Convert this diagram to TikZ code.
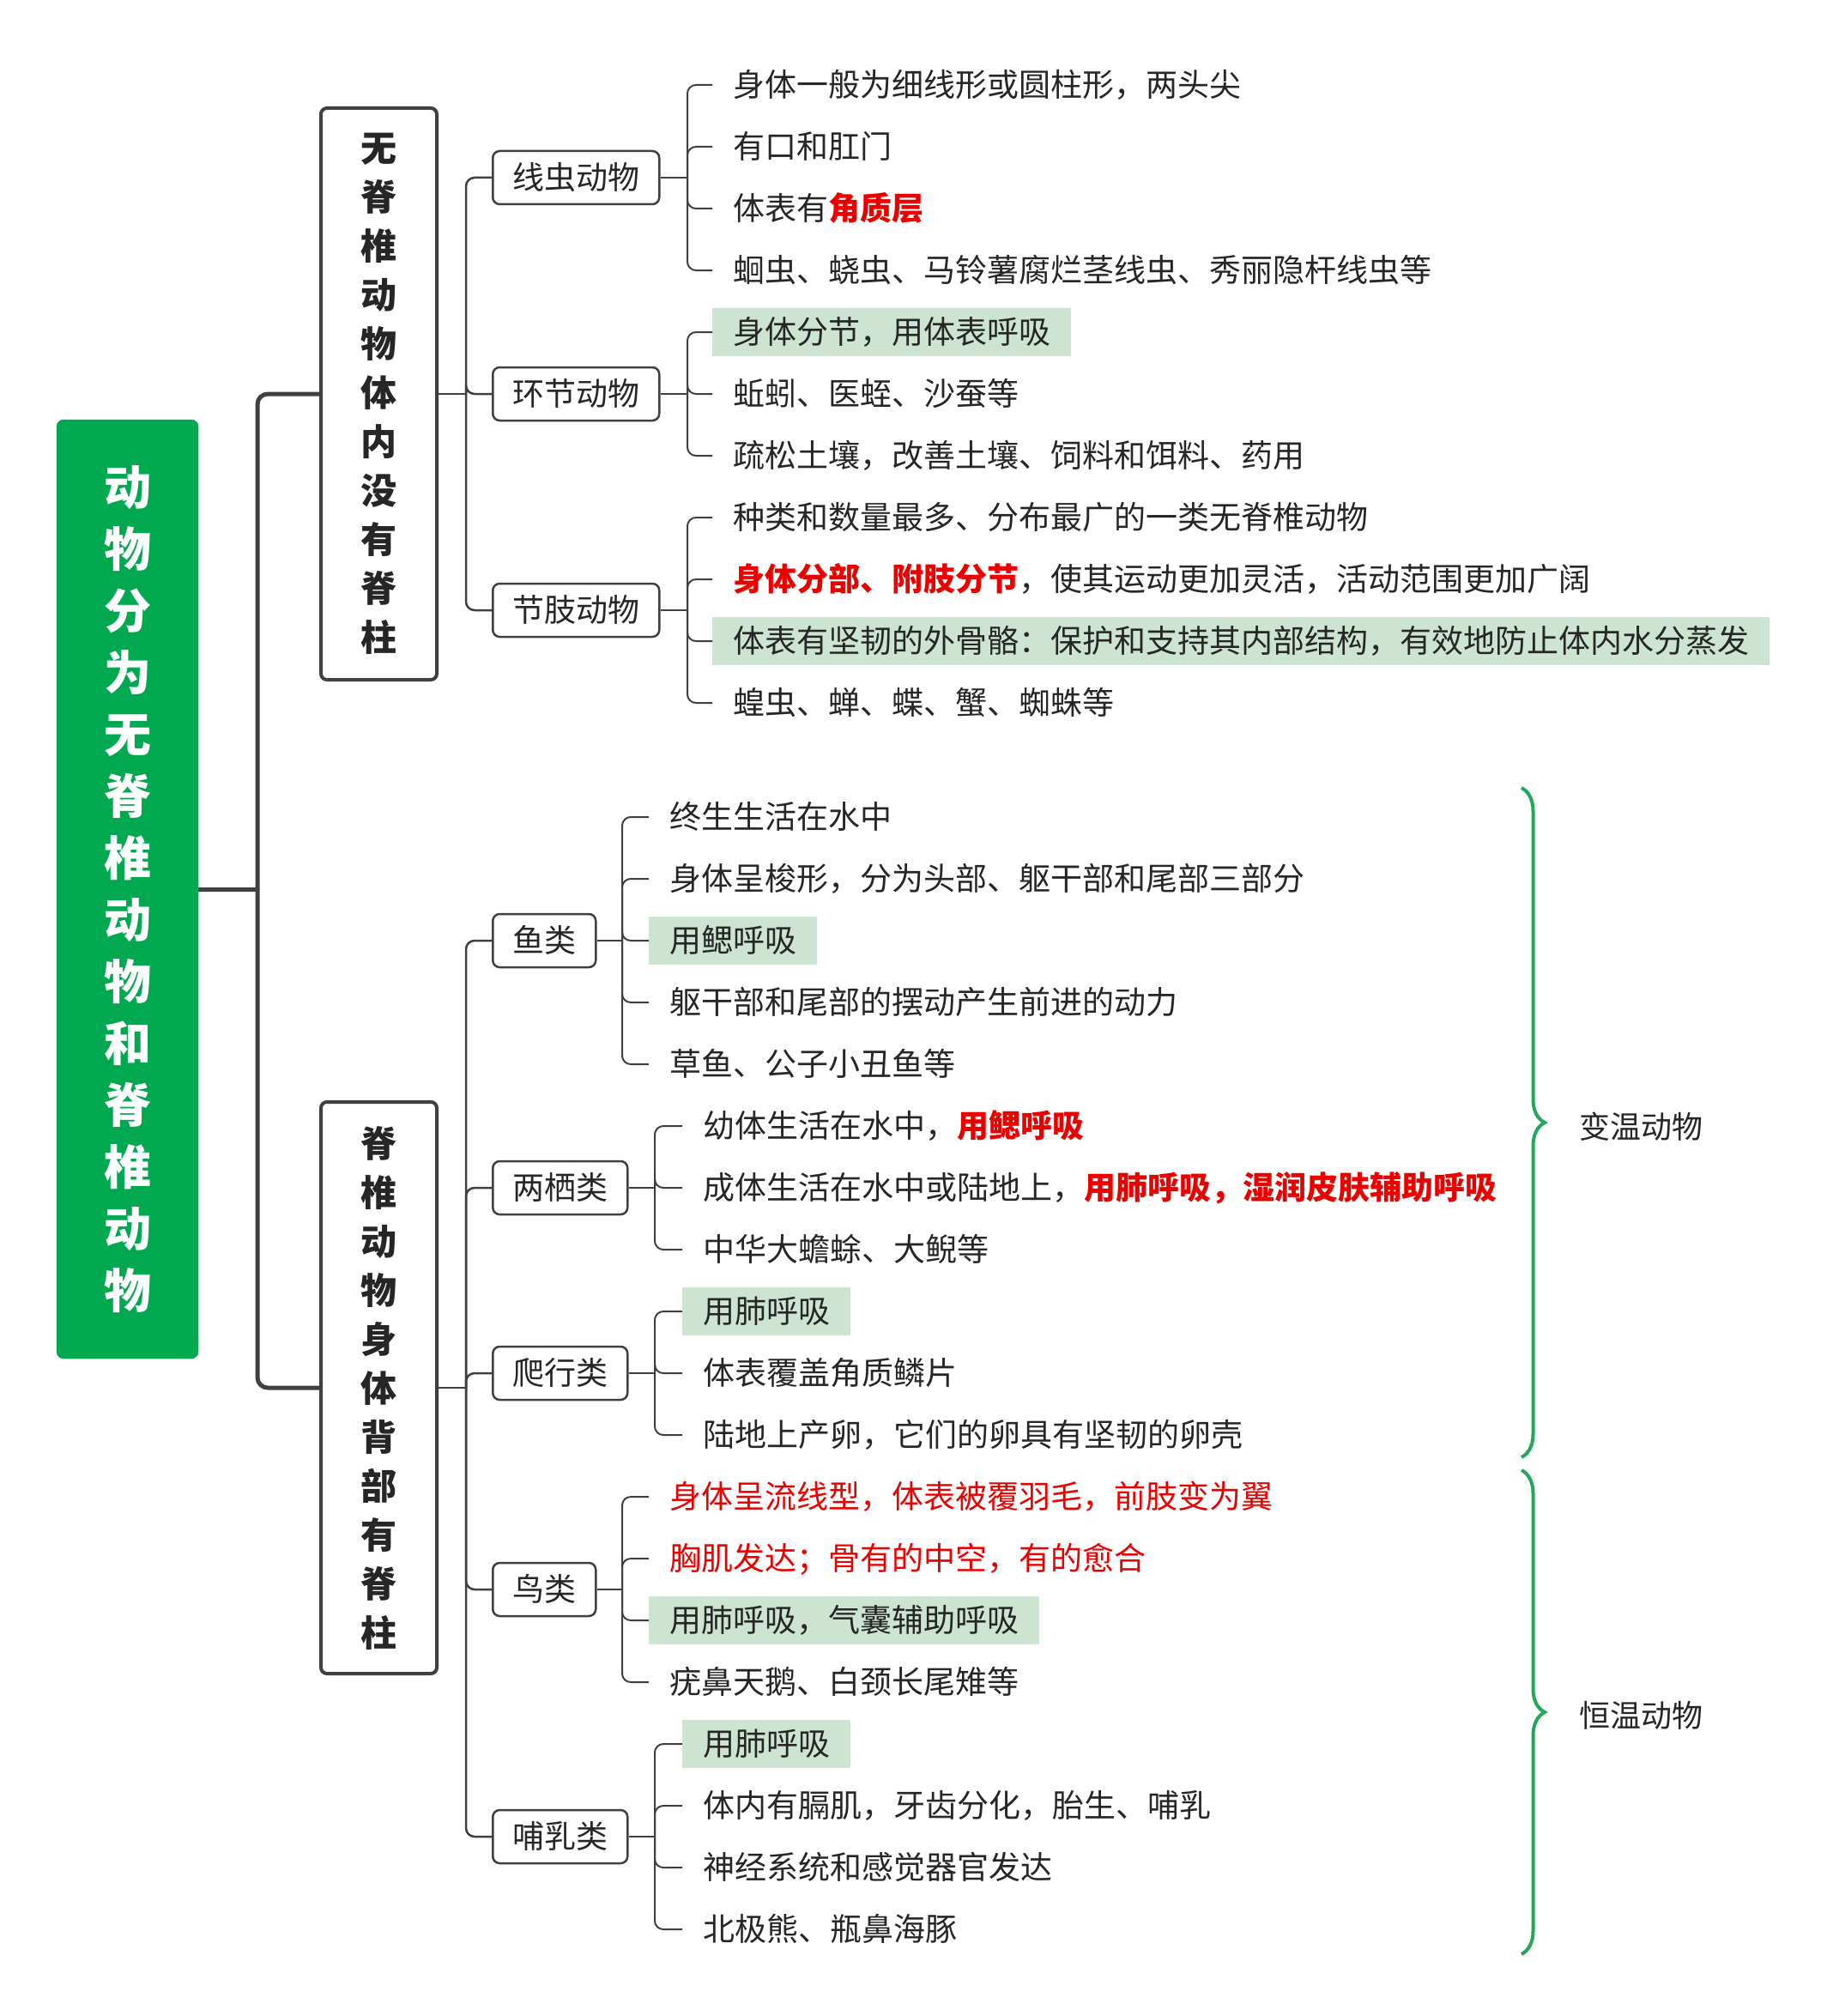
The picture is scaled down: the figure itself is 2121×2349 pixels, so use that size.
\documentclass[tikz,border=0pt]{standalone}
\usepackage{fontspec}
\setmainfont{Noto Sans CJK SC}
\usetikzlibrary{decorations.pathreplacing}
\definecolor{rootg}{RGB}{0,168,80}
\definecolor{linec}{RGB}{64,64,64}
\definecolor{txt}{RGB}{38,38,38}
\definecolor{hl}{RGB}{205,228,210}
\definecolor{redc}{RGB}{235,0,0}
\definecolor{braceg}{RGB}{34,168,90}
\newcommand{\rb}[1]{\textcolor{redc}{\bfseries #1}}
\tikzset{
 rootbox/.style={fill=rootg, draw=rootg, rounded corners=8, minimum width=165, minimum height=1094, text=white, align=center, font=\bfseries\fontsize{55}{72}\selectfont, inner sep=0},
 bigbox/.style={draw=linec, line width=4, rounded corners=7, minimum width=135, minimum height=666, align=center, text=txt, font=\bfseries\fontsize{42}{57}\selectfont, inner sep=0},
 catbox/.style={draw=linec, line width=2.5, rounded corners=8, anchor=west, inner xsep=23, inner ysep=0, minimum height=62, text height=32, text depth=5, text=txt, font=\fontsize{37}{44}\selectfont},
 leaf/.style={anchor=west, inner xsep=24, inner ysep=0, minimum height=56, text height=32, text depth=5, text=txt, font=\fontsize{37}{44}\selectfont},
 hleaf/.style={leaf, fill=hl},
 redleaf/.style={leaf, text=redc},
 trunkline/.style={draw=linec, line width=5, rounded corners=12},
 midline/.style={draw=linec, line width=2.5, rounded corners=10},
 leafline/.style={draw=linec, line width=2, rounded corners=10},
 bracec/.style={draw=braceg, line width=4, decorate, decoration={brace, amplitude=27}},
 side/.style={anchor=west, text=txt, font=\fontsize{36}{44}\selectfont, inner sep=0},
}
\begin{document}
\begin{tikzpicture}[x=1pt, y=-1pt]
\useasboundingbox (0,0) rectangle (2121,2349);
% root
\node[rootbox] (root) at (148.5,1036) {动\\物\\分\\为\\无\\脊\\椎\\动\\物\\和\\脊\\椎\\动\\物};
% main boxes
\node[bigbox] (inv) at (441.5,459) {无\\脊\\椎\\动\\物\\体\\内\\没\\有\\脊\\柱};
\node[bigbox] (vert) at (441.5,1617) {脊\\椎\\动\\物\\身\\体\\背\\部\\有\\脊\\柱};
% categories
\node[catbox] (xc) at (573,207) {线虫动物};
\node[catbox] (hj) at (573,459) {环节动物};
\node[catbox] (jz) at (573,711) {节肢动物};
\node[catbox] (yl) at (573,1096) {鱼类};
\node[catbox] (lq) at (573,1384) {两栖类};
\node[catbox] (px) at (573,1600) {爬行类};
\node[catbox] (nl) at (573,1852) {鸟类};
\node[catbox] (br) at (573,2140) {哺乳类};
% leaves: 线虫
\node[leaf] (xc1) at (830,99) {身体一般为细线形或圆柱形，两头尖};
\node[leaf] (xc2) at (830,171) {有口和肛门};
\node[leaf] (xc3) at (830,243) {体表有\rb{角质层}};
\node[leaf] (xc4) at (830,315) {蛔虫、蛲虫、马铃薯腐烂茎线虫、秀丽隐杆线虫等};
% 环节
\node[hleaf] (hj1) at (830,387) {身体分节，用体表呼吸};
\node[leaf] (hj2) at (830,459) {蚯蚓、医蛭、沙蚕等};
\node[leaf] (hj3) at (830,531) {疏松土壤，改善土壤、饲料和饵料、药用};
% 节肢
\node[leaf] (jz1) at (830,603) {种类和数量最多、分布最广的一类无脊椎动物};
\node[leaf] (jz2) at (830,675) {\rb{身体分部、附肢分节}，使其运动更加灵活，活动范围更加广阔};
\node[hleaf] (jz3) at (830,747) {体表有坚韧的外骨骼：保护和支持其内部结构，有效地防止体内水分蒸发};
\node[leaf] (jz4) at (830,819) {蝗虫、蝉、蝶、蟹、蜘蛛等};
% 鱼类
\node[leaf] (yl1) at (756,952) {终生生活在水中};
\node[leaf] (yl2) at (756,1024) {身体呈梭形，分为头部、躯干部和尾部三部分};
\node[hleaf] (yl3) at (756,1096) {用鳃呼吸};
\node[leaf] (yl4) at (756,1168) {躯干部和尾部的摆动产生前进的动力};
\node[leaf] (yl5) at (756,1240) {草鱼、公子小丑鱼等};
% 两栖类
\node[leaf] (lq1) at (795,1312) {幼体生活在水中，\rb{用鳃呼吸}};
\node[leaf] (lq2) at (795,1384) {成体生活在水中或陆地上，\rb{用肺呼吸，湿润皮肤辅助呼吸}};
\node[leaf] (lq3) at (795,1456) {中华大蟾蜍、大鲵等};
% 爬行类
\node[hleaf] (px1) at (795,1528) {用肺呼吸};
\node[leaf] (px2) at (795,1600) {体表覆盖角质鳞片};
\node[leaf] (px3) at (795,1672) {陆地上产卵，它们的卵具有坚韧的卵壳};
% 鸟类
\node[redleaf] (nl1) at (756,1744) {身体呈流线型，体表被覆羽毛，前肢变为翼};
\node[redleaf] (nl2) at (756,1816) {胸肌发达；骨有的中空，有的愈合};
\node[hleaf] (nl3) at (756,1888) {用肺呼吸，气囊辅助呼吸};
\node[leaf] (nl4) at (756,1960) {疣鼻天鹅、白颈长尾雉等};
% 哺乳类
\node[hleaf] (br1) at (795,2032) {用肺呼吸};
\node[leaf] (br2) at (795,2104) {体内有膈肌，牙齿分化，胎生、哺乳};
\node[leaf] (br3) at (795,2176) {神经系统和感觉器官发达};
\node[leaf] (br4) at (795,2248) {北极熊、瓶鼻海豚};
% root connectors
\coordinate (j0) at (300,1036);
\draw[trunkline] (root.east) -- (j0);
\draw[trunkline] (j0) |- (inv.west);
\draw[trunkline] (j0) |- (vert.west);
% main to categories
\coordinate (j1) at (543,459);
\coordinate (j2) at (543,1617);
\draw[midline] (inv.east) -- (j1);
\foreach \c in {xc,hj,jz} \draw[midline] (j1) |- (\c.west);
\draw[midline] (vert.east) -- (j2);
\foreach \c in {yl,lq,px,nl,br} \draw[midline] (j2) |- (\c.west);
% category to leaves
\coordinate (kxc) at (801,207);
\coordinate (khj) at (801,459);
\coordinate (kjz) at (801,711);
\coordinate (kyl) at (725,1096);
\coordinate (klq) at (763,1384);
\coordinate (kpx) at (763,1600);
\coordinate (knl) at (725,1852);
\coordinate (kbr) at (763,2140);
\foreach \c in {xc,hj,jz,yl,lq,px,nl,br} \draw[leafline] (\c.east) -- (k\c);
\foreach \l in {xc1,xc2,xc3,xc4} \draw[leafline] (kxc) |- (\l.west);
\foreach \l in {hj1,hj2,hj3} \draw[leafline] (khj) |- (\l.west);
\foreach \l in {jz1,jz2,jz3,jz4} \draw[leafline] (kjz) |- (\l.west);
\foreach \l in {yl1,yl2,yl3,yl4,yl5} \draw[leafline] (kyl) |- (\l.west);
\foreach \l in {lq1,lq2,lq3} \draw[leafline] (klq) |- (\l.west);
\foreach \l in {px1,px2,px3} \draw[leafline] (kpx) |- (\l.west);
\foreach \l in {nl1,nl2,nl3,nl4} \draw[leafline] (knl) |- (\l.west);
\foreach \l in {br1,br2,br3,br4} \draw[leafline] (kbr) |- (\l.west);
% braces
\coordinate (b1t) at (1773,918);
\coordinate (b1b) at (1773,1698);
\coordinate (b2t) at (1773,1713);
\coordinate (b2b) at (1773,2277);
\draw[bracec] (b1t) -- (b1b);
\draw[bracec] (b2t) -- (b2b);
\node[side] (bw) at (1840,1313) {变温动物};
\node[side] (hw) at (1840,1999) {恒温动物};
\end{tikzpicture}
\end{document}
